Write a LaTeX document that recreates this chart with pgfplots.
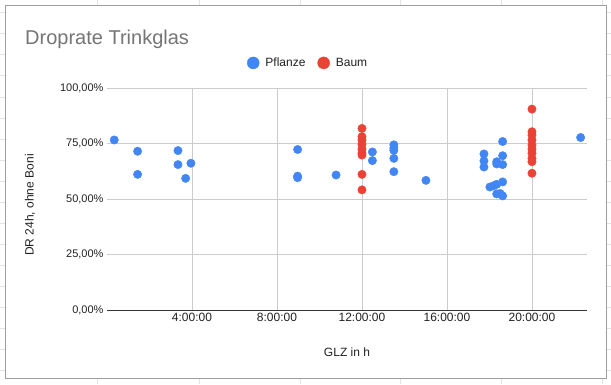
\documentclass[border=0pt]{standalone}
\usepackage{pgfplots}
\pgfplotsset{compat=1.18}
\usepackage{fontspec}
\setmainfont{Liberation Sans}
\definecolor{pblue}{HTML}{4285F4}
\definecolor{pred}{HTML}{EA4335}
\definecolor{gridc}{HTML}{CCCCCC}
\definecolor{titlec}{HTML}{757575}
\definecolor{txt}{HTML}{222222}
\definecolor{sheet}{HTML}{E2E2E2}
\definecolor{framec}{HTML}{9E9E9E}

\pgfplotstableread{
x y
0.34 76.6
1.44 71.5
1.44 61.1
3.34 71.8
3.34 65.5
3.95 66.1
3.70 59.3
8.97 72.3
8.97 59.6
8.97 60.3
10.78 60.8
12.49 71.2
12.49 67.3
13.50 74.4
13.50 73.0
13.50 71.9
13.50 68.3
13.50 62.3
15.01 58.4
17.74 70.3
17.74 67.2
17.74 64.4
18.02 55.4
18.20 56.0
18.34 65.8
18.34 66.8
18.34 56.6
18.34 52.3
18.62 75.9
18.62 69.5
18.62 65.5
18.62 57.7
18.62 51.4
18.50 52.5
22.29 77.7
}\pflanze

\pgfplotstableread{
x y
12 81.8
12 78.1
12 76.6
12 74.6
12 72.4
12 70.6
12 69.8
12 61.1
12 54.1
20 90.5
20 80.3
20 78.8
20 76.6
20 74.3
20 72.4
20 70.6
20 68.3
20 66.8
20 61.6
}\baum

\begin{document}
\begin{tikzpicture}[x=1pt,y=1pt]
\useasboundingbox (0,0) rectangle (611,384);
\fill[white] (0,0) rectangle (611,384);
\foreach \xx in {97.4,198.8,299.7,400.6,501.6,602} {
  \draw[sheet] (\xx,384) -- (\xx,378);
  \draw[sheet] (\xx,0) -- (\xx,6);
}
\foreach \k in {0,...,17} {
  \pgfmathsetmacro\yy{384-(12.5+21.05*\k)}
  \draw[sheet] (0,\yy) -- (5.5,\yy);
  \draw[sheet] (606,\yy) -- (611,\yy);
}
\draw[framec] (5.5,6.3) rectangle (606,378.3);

\node[anchor=base west, inner sep=0pt, text=titlec, font=\fontsize{20}{24}\selectfont] at (25,340) {Droprate Trinkglas};
\node[text=txt, font=\fontsize{12}{14}\selectfont] at (347,32) {GLZ in h};
\node[text=txt, rotate=90, font=\fontsize{12}{14}\selectfont] at (30,179) {DR 24h, ohne Boni};

\begin{axis}[
  at={(107pt,74pt)}, anchor=south west,
  width=480pt, height=222pt, scale only axis,
  xmin=0, xmax=22.59, ymin=0, ymax=100,
  axis line style={draw=none},
  tick style={draw=none},
  xtick={4,8,12,16,20},
  xticklabels={4:00:00,8:00:00,12:00:00,16:00:00,20:00:00},
  ytick={0,25,50,75,100},
  yticklabels={{0,00\%},{25,00\%},{50,00\%},{75,00\%},{100,00\%}},
  grid=major,
  grid style={draw=gridc, line width=0.8pt},
  x tick label style={font=\fontsize{12}{14}\selectfont, text=txt},
  y tick label style={font=\fontsize{11}{13}\selectfont, text=txt},
  legend columns=2,
  legend style={draw=none, fill=none, at={(0.419,1.113)}, anchor=center,
    font=\fontsize{12}{14}\selectfont, text=txt,
    /tikz/every odd column/.append style={column sep=4pt},
    /tikz/every even column/.append style={column sep=10pt}},
  legend image code/.code={\fill (0pt,0pt) circle (6pt);},
  clip=false,
]
\addplot[only marks, mark=*, color=pblue, mark size=4.2pt] table[x=x,y=y] {\pflanze};
\addlegendentry{Pflanze}
\addplot[only marks, mark=*, color=pred, mark size=4.2pt] table[x=x,y=y] {\baum};
\addlegendentry{Baum}
\draw[black!80, line width=1pt] (axis cs:0,0) -- (axis cs:22.59,0);
\end{axis}
\end{tikzpicture}
\end{document}
